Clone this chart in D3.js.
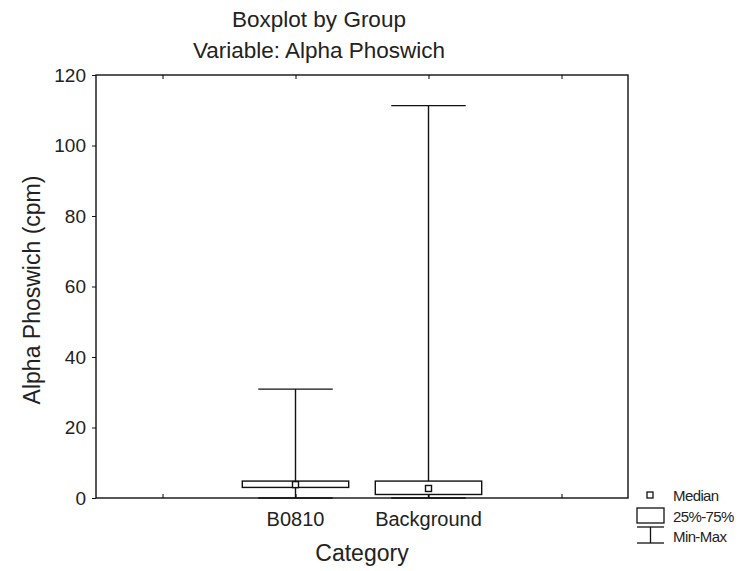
<!DOCTYPE html>
<html><head><meta charset="utf-8">
<script src="https://cdn.jsdelivr.net/npm/d3@7"></script>
<style>body{margin:0;background:#fff}svg{display:block}text{font-family:"Liberation Sans",Arial,sans-serif;fill:#222}</style>
</head><body>
<svg id="c" width="755" height="571"></svg>
<script>
const categories = ["B0810", "Background"];
const minVals = [0, 0];
const q1Vals = [3.0, 1.0];
const medianVals = [3.8, 2.7];
const q3Vals = [4.8, 4.8];
const maxVals = [30.9, 111.3];
const yTicks = [0, 20, 40, 60, 80, 100, 120];
const titleLines = ["Boxplot by Group", "Variable: Alpha Phoswich"];
const legendLabels = ["Median", "25%-75%", "Min-Max"];

const svg = d3.select("#c");
const L = 96, R = 628, T = 75, B = 498;
const x = d3.scaleLinear().domain([-0.5, 3.5]).range([L, R]);
const y = d3.scaleLinear().domain([0, 120]).range([B, T]);
const unit = x(1) - x(0);
const boxW = 0.8 * unit, capW = 0.56 * unit;

// titles
svg.selectAll(".title").data(titleLines).join("text")
  .attr("x", 319).attr("y", (d, i) => 27 + i * 31)
  .attr("text-anchor", "middle").attr("font-size", 22.5).text(d => d);

// frame
svg.append("rect").attr("x", L).attr("y", T).attr("width", R - L).attr("height", B - T)
  .attr("fill", "none").attr("stroke", "#111").attr("stroke-width", 1.4);

// y axis
const yAxis = d3.axisLeft(y).tickValues(yTicks).tickSize(4).tickPadding(6);
const gy = svg.append("g").attr("transform", `translate(${L},0)`).call(yAxis);
gy.select(".domain").remove();
gy.selectAll("text").attr("font-size", 19).attr("font-family", "Liberation Sans, Arial, sans-serif").attr("fill", "#222");
gy.selectAll("line").attr("stroke", "#111");

// x ticks inward top and bottom
const xt = [0, 1, 2, 3];
const gxb = svg.append("g").attr("transform", `translate(0,${B})`)
  .call(d3.axisTop(x).tickValues(xt).tickSize(4).tickFormat(""));
gxb.select(".domain").remove();
const gxt = svg.append("g").attr("transform", `translate(0,${T})`)
  .call(d3.axisBottom(x).tickValues(xt).tickSize(4).tickFormat(""));
gxt.select(".domain").remove();

// category labels
svg.selectAll(".cat").data(categories).join("text")
  .attr("x", (d, i) => x(i + 1)).attr("y", 526)
  .attr("text-anchor", "middle").attr("font-size", 20).text(d => d);

// axis titles
svg.append("text").attr("x", (L + R) / 2).attr("y", 561).attr("text-anchor", "middle")
  .attr("font-size", 23).text("Category");
svg.append("text").attr("transform", `translate(40,290) rotate(-90)`)
  .attr("text-anchor", "middle").attr("font-size", 23).text("Alpha Phoswich (cpm)");

// boxes
const g = svg.append("g").attr("stroke", "#111").attr("stroke-width", 1.4);
categories.forEach((c, i) => {
  const cx = x(i + 1);
  g.append("line").attr("x1", cx).attr("x2", cx).attr("y1", y(minVals[i])).attr("y2", y(maxVals[i]));
  g.append("line").attr("x1", cx - capW / 2).attr("x2", cx + capW / 2).attr("y1", y(maxVals[i])).attr("y2", y(maxVals[i]));
  g.append("line").attr("x1", cx - capW / 2).attr("x2", cx + capW / 2).attr("y1", y(minVals[i])).attr("y2", y(minVals[i]));
  g.append("rect").attr("x", cx - boxW / 2).attr("y", y(q3Vals[i])).attr("width", boxW)
    .attr("height", y(q1Vals[i]) - y(q3Vals[i])).attr("fill", "#fff");
  g.append("rect").attr("x", cx - 3).attr("y", y(medianVals[i]) - 3).attr("width", 6).attr("height", 6).attr("fill", "#fff");
});

// legend
const lg = svg.append("g").attr("stroke", "#111").attr("stroke-width", 1.3);
lg.append("rect").attr("x", 647).attr("y", 492).attr("width", 6).attr("height", 6).attr("fill", "#fff");
lg.append("rect").attr("x", 637).attr("y", 508).attr("width", 27).attr("height", 15).attr("fill", "#fff");
lg.append("line").attr("x1", 637).attr("x2", 664).attr("y1", 527).attr("y2", 527);
lg.append("line").attr("x1", 637).attr("x2", 664).attr("y1", 543).attr("y2", 543);
lg.append("line").attr("x1", 650.5).attr("x2", 650.5).attr("y1", 527).attr("y2", 543);
svg.selectAll(".leg").data(legendLabels).join("text")
  .attr("x", 673).attr("y", (d, i) => 501 + i * 20.5)
  .attr("font-size", 15).attr("letter-spacing", -0.6).text(d => d);
</script>
</body></html>
